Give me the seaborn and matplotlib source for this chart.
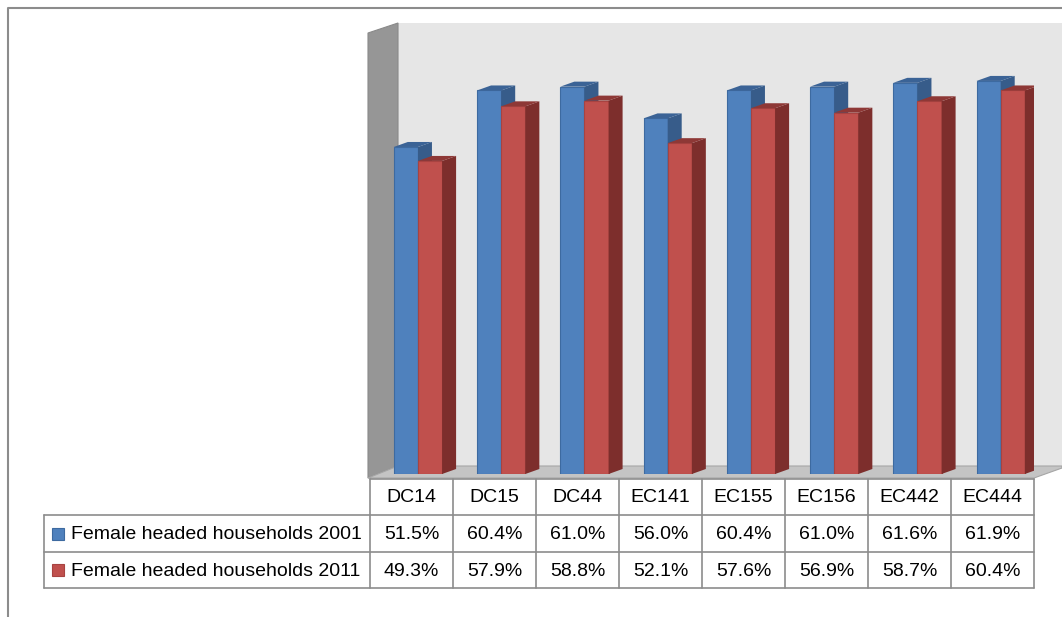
import pandas as pd
import matplotlib.pyplot as plt
import seaborn as sns
from matplotlib.patches import Polygon, Rectangle

districts = ["DC14", "DC15", "DC44", "EC141", "EC155", "EC156", "EC442", "EC444"]
series_names = ["Female headed households 2001", "Female headed households 2011"]
hh_2001 = [51.5, 60.4, 61.0, 56.0, 60.4, 61.0, 61.6, 61.9]
hh_2011 = [49.3, 57.9, 58.8, 52.1, 57.6, 56.9, 58.7, 60.4]

df = pd.DataFrame({
    "district": districts * 2,
    "series": [series_names[0]] * len(districts) + [series_names[1]] * len(districts),
    "value": hh_2001 + hh_2011,
})

sns.set_theme(style="white")
plt.rcParams["font.family"] = ["Liberation Sans", "DejaVu Sans"]

W, H = 1062, 617
fig = plt.figure(figsize=(W / 100, H / 100), dpi=100)

# background layer in pixel coordinates (frame, 3d walls, table)
bg = fig.add_axes([0, 0, 1, 1])
bg.set_xlim(0, W)
bg.set_ylim(H, 0)
bg.axis("off")

# outer chart frame (cropped at right and bottom)
bg.plot([8, 8, W], [H, 8, 8], color="#8c8c8c", lw=1.5)

# back wall, side wall, floor
bg.add_patch(Polygon([(398, 23), (W, 23), (W, 466), (398, 466)], closed=True,
                     facecolor="#e6e6e6", edgecolor="none"))
bg.add_patch(Polygon([(368, 33), (398, 23), (398, 466), (368, 478)], closed=True,
                     facecolor="#969696", edgecolor="#8a8a8a", lw=0.8))
bg.add_patch(Polygon([(368, 478), (398, 466), (W, 466), (W, 468), (1034, 478)], closed=True,
                     facecolor="#c4c4c4", edgecolor="#a6a6a6", lw=0.8))

# bars
blue, red = "#4f81bd", "#c0504d"
side_cols = {0: ("#3b6396", "#375c8a"), 1: ("#8e3836", "#7d2e2c")}
edge_cols = {0: "#3d6aa0", 1: "#a84341"}

ax = fig.add_axes([368 / W, 1 - 474 / H, (1034 - 368) / W, (474 - 29.5) / H])
ax.patch.set_alpha(0)
sns.barplot(data=df, x="district", y="value", hue="series", palette=[blue, red],
            width=0.58, dodge=True, saturation=1, legend=False, ax=ax)
ax.set_xlim(-0.6, 7.4)
ax.set_ylim(0, 70)
ax.axis("off")

dx = 14 / 83.25
dy = 5 / 6.35
n = len(districts)
for i, p in enumerate(ax.patches):
    s = i // n
    x0, w, h = p.get_x(), p.get_width(), p.get_height()
    z = 2 + s
    p.set_zorder(z)
    p.set_edgecolor(edge_cols[s])
    p.set_linewidth(0.8)
    top_c, side_c = side_cols[s]
    ax.add_patch(Polygon([(x0 + w, 0), (x0 + w + dx, dy), (x0 + w + dx, h + dy), (x0 + w, h)],
                         closed=True, facecolor=side_c, edgecolor="none", zorder=z))
    ax.add_patch(Polygon([(x0, h), (x0 + dx, h + dy), (x0 + w + dx, h + dy), (x0 + w, h)],
                         closed=True, facecolor=top_c, edgecolor="none", zorder=z))

# data table
grid = "#8c8c8c"
col_edges = [370 + 83 * k for k in range(len(districts) + 1)]
rows_y = [479, 515, 552, 588]
for x in col_edges:
    bg.plot([x, x], [rows_y[0], rows_y[-1]], color=grid, lw=1.2)
bg.plot([44, 44], [rows_y[1], rows_y[-1]], color=grid, lw=1.2)
bg.plot([370, col_edges[-1]], [rows_y[0], rows_y[0]], color=grid, lw=1.2)
for y in rows_y[1:]:
    bg.plot([44, col_edges[-1]], [y, y], color=grid, lw=1.2)

fs = 14
for k, name in enumerate(districts):
    cx = (col_edges[k] + col_edges[k + 1]) / 2
    bg.text(cx, (rows_y[0] + rows_y[1]) / 2 + 1, name, ha="center", va="center", fontsize=fs, color="black")
    bg.text(cx, (rows_y[1] + rows_y[2]) / 2 + 1, f"{hh_2001[k]:.1f}%", ha="center", va="center", fontsize=fs, color="black")
    bg.text(cx, (rows_y[2] + rows_y[3]) / 2 + 1, f"{hh_2011[k]:.1f}%", ha="center", va="center", fontsize=fs, color="black")

for r, (name, col) in enumerate(zip(series_names, [blue, red])):
    cy = (rows_y[r + 1] + rows_y[r + 2]) / 2
    bg.add_patch(Rectangle((52, cy - 6), 12, 12, facecolor=col, edgecolor=edge_cols[r], lw=0.8))
    bg.text(71, cy + 1, name, ha="left", va="center", fontsize=fs, color="black")

fig.savefig("out.png", dpi=100)
